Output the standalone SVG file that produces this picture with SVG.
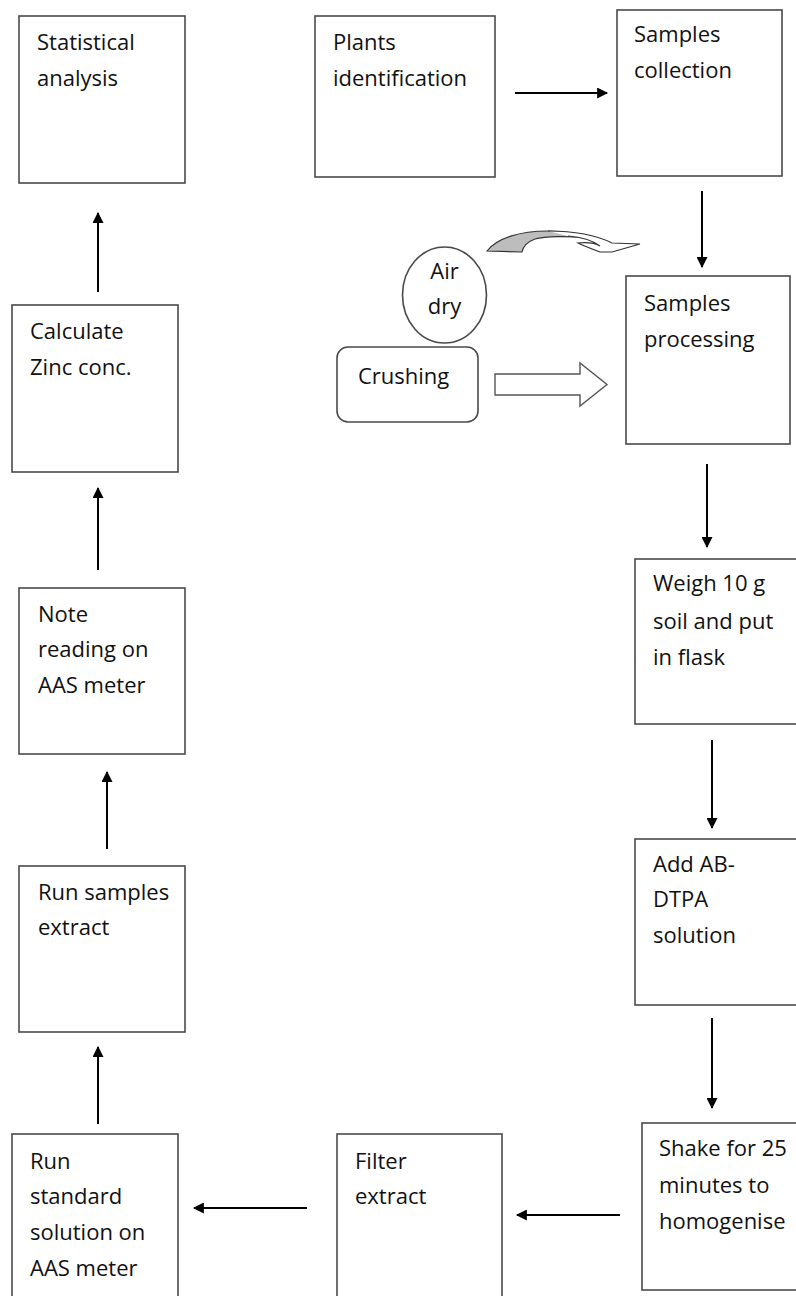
<svg xmlns="http://www.w3.org/2000/svg" width="796" height="1296" viewBox="0 0 796 1296">
<defs>
<style>
.box{fill:#fff;stroke:#4a4a4a;stroke-width:1.6}
.t{font-family:"Open Sans","Noto Sans",sans-serif;font-size:22px;fill:#111}
.c{stroke:#000;stroke-width:2;fill:none;marker-end:url(#ah)}
</style>
<marker id="ah" viewBox="0 0 10 10" refX="9" refY="5" markerWidth="6" markerHeight="5.5" markerUnits="strokeWidth" orient="auto">
<path d="M0,0 L10,5 L0,10 Z" fill="#000"/>
</marker>
</defs>
<rect width="796" height="1296" fill="#fff"/>

<g id="n-statistical"><rect class="box" x="19" y="16" width="166" height="167"/><text class="t" x="37" y="50">Statistical</text><text class="t" x="37" y="86">analysis</text></g>
<g id="n-plants"><rect class="box" x="315" y="16" width="180" height="161"/><text class="t" x="333" y="50">Plants</text><text class="t" x="333" y="86">identification</text></g>
<g id="n-collection"><rect class="box" x="617" y="10" width="165" height="166"/><text class="t" x="634" y="42">Samples</text><text class="t" x="634" y="78">collection</text></g>
<g id="n-processing"><rect class="box" x="626" y="276" width="164" height="168"/><text class="t" x="644" y="311">Samples</text><text class="t" x="644" y="347">processing</text></g>
<g id="n-airdry"><ellipse class="box" cx="444.5" cy="295" rx="42" ry="48"/><text class="t" x="444.5" y="279" text-anchor="middle">Air</text><text class="t" x="444.5" y="314" text-anchor="middle">dry</text></g>
<g id="n-crushing"><rect class="box" x="337" y="347" width="141" height="75" rx="11"/><text class="t" x="358" y="384">Crushing</text></g>
<g id="n-calculate"><rect class="box" x="12" y="305" width="166" height="167"/><text class="t" x="30" y="339">Calculate</text><text class="t" x="30" y="375">Zinc conc.</text></g>
<g id="n-note"><rect class="box" x="19" y="588" width="166" height="166"/><text class="t" x="38" y="622">Note</text><text class="t" x="38" y="657">reading on</text><text class="t" x="38" y="693">AAS meter</text></g>
<g id="n-weigh"><rect class="box" x="635" y="559" width="170" height="165"/><text class="t" x="653" y="591">Weigh 10 g</text><text class="t" x="653" y="629">soil and put</text><text class="t" x="653" y="665">in flask</text></g>
<g id="n-runsamples"><rect class="box" x="19" y="866" width="166" height="166"/><text class="t" x="38" y="900">Run samples</text><text class="t" x="38" y="935">extract</text></g>
<g id="n-abdtpa"><rect class="box" x="635" y="839" width="170" height="166"/><text class="t" x="653" y="872">Add AB-</text><text class="t" x="653" y="907">DTPA</text><text class="t" x="653" y="943">solution</text></g>
<g id="n-runstandard"><rect class="box" x="12" y="1134" width="166" height="170"/><text class="t" x="30" y="1169">Run</text><text class="t" x="30" y="1204">standard</text><text class="t" x="30" y="1240">solution on</text><text class="t" x="30" y="1276">AAS meter</text></g>
<g id="n-filter"><rect class="box" x="337" y="1134" width="165" height="170"/><text class="t" x="355" y="1169">Filter</text><text class="t" x="355" y="1204">extract</text></g>
<g id="n-shake"><rect class="box" x="642" y="1123" width="165" height="167"/><text class="t" x="659" y="1156">Shake for 25</text><text class="t" x="659" y="1193">minutes to</text><text class="t" x="659" y="1229">homogenise</text></g>

<g id="connectors">
<line class="c" x1="515" y1="93" x2="607" y2="93"/>
<line class="c" x1="702" y1="191" x2="702" y2="267"/>
<line class="c" x1="707" y1="464" x2="707" y2="547"/>
<line class="c" x1="712" y1="740" x2="712" y2="828"/>
<line class="c" x1="712" y1="1018" x2="712" y2="1108"/>
<line class="c" x1="620" y1="1215" x2="517" y2="1215"/>
<line class="c" x1="307" y1="1208" x2="194" y2="1208"/>
<line class="c" x1="98" y1="1124" x2="98" y2="1047"/>
<line class="c" x1="107" y1="849" x2="107" y2="772"/>
<line class="c" x1="98" y1="570" x2="98" y2="488"/>
<line class="c" x1="98" y1="292" x2="98" y2="213"/>
<path id="block-arrow" d="M495,374 L580,374 L580,363 L607,384.5 L580,406 L580,395 L495,395 Z" fill="#fff" stroke="#555" stroke-width="1.4"/>
<g id="curved-arrow" stroke="#333" stroke-width="1.2">
<path d="M487,251 C497,238 520,231 548,231 C565,231 578,234 588,238 C568,236 545,236 535,239 C527,242 523,247 522,252 Z" fill="#bdbdbd"/>
<path d="M548,231 C578,231 600,237 612,243 L640,244 L612,252 L600,252 C592,249 582,245 578,243 C588,242 595,243 600,246 C592,240 580,237 568,236" fill="#fff"/>
</g>
</g>
</svg>
